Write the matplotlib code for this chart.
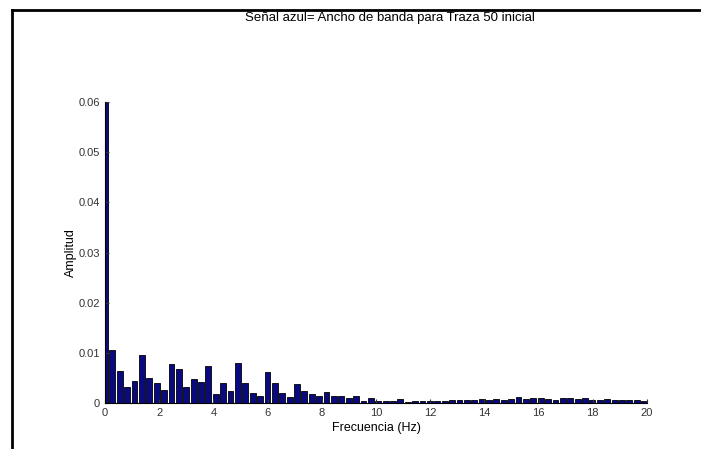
import numpy as np
import matplotlib
matplotlib.use("Agg")
import matplotlib.pyplot as plt
from matplotlib.lines import Line2D

# === Data ===
bin_width = 0.2725  # Hz between spectral bins
amplitud = [
    0.0600, 0.0105, 0.0063, 0.0031, 0.0043, 0.0095, 0.0050, 0.0040, 0.0026, 0.0077,
    0.0067, 0.0032, 0.0047, 0.0041, 0.0073, 0.0017, 0.0039, 0.0024, 0.0079, 0.0039,
    0.0019, 0.0013, 0.0061, 0.0040, 0.0019, 0.0011, 0.0037, 0.0023, 0.0017, 0.0013,
    0.0021, 0.0013, 0.0013, 0.0010, 0.0013, 0.0003, 0.0009, 0.0003, 0.0003, 0.0003,
    0.0007, 0.0002, 0.0004, 0.0003, 0.0003, 0.0004, 0.0004, 0.0005, 0.0005, 0.0006,
    0.0005, 0.0007, 0.0006, 0.0007, 0.0006, 0.0008, 0.0011, 0.0007, 0.0009, 0.0010,
    0.0007, 0.0006, 0.0009, 0.0010, 0.0008, 0.0009, 0.0006, 0.0005, 0.0007, 0.0006,
    0.0006, 0.0005, 0.0005, 0.0004, 0.0008,
]
frecuencia = np.arange(len(amplitud)) * bin_width

xticks = [0, 2, 4, 6, 8, 10, 12, 14, 16, 18, 20]
yticks = [0, 0.01, 0.02, 0.03, 0.04, 0.05, 0.06]
ytick_labels = ["0", "0.01", "0.02", "0.03", "0.04", "0.05", "0.06"]

titulo = "Señal azul= Ancho de banda para Traza 50 inicial"

# === Plot ===
plt.rcParams['font.family'] = ['Liberation Sans', 'DejaVu Sans']

fig = plt.figure(figsize=(7.01, 4.49), dpi=100)
ax = fig.add_axes([105 / 701, 1 - 403 / 449, 542 / 701, 301 / 449])

ax.bar(frecuencia, amplitud, width=0.8 * bin_width, color='#0a0a80',
       edgecolor='black', linewidth=0.6)

ax.set_xlim(0, 20)
ax.set_ylim(0, 0.06)
ax.set_xticks(xticks)
ax.set_yticks(yticks)
ax.set_yticklabels(ytick_labels)
ax.tick_params(direction='in', length=3, labelsize=8, colors='#333333',
               labelcolor='#333333')
for side in ['top', 'right']:
    ax.spines[side].set_visible(False)
for side in ['left', 'bottom']:
    ax.spines[side].set_linewidth(0.8)

ax.set_xlabel("Frecuencia (Hz)", fontsize=9, labelpad=3)
ax.set_ylabel("Amplitud", fontsize=9, labelpad=1)

fig.text(390 / 701, 1 - 18 / 449, titulo, ha='center', va='center', fontsize=9.5)

# frame around the figure (left and top edges)
fig.add_artist(Line2D([12 / 701, 12 / 701], [0, 1 - 10 / 449],
                      transform=fig.transFigure, color='black', linewidth=2))
fig.add_artist(Line2D([12 / 701, 1], [1 - 10 / 449, 1 - 10 / 449],
                      transform=fig.transFigure, color='black', linewidth=2))

fig.savefig("out.png", dpi=100)
